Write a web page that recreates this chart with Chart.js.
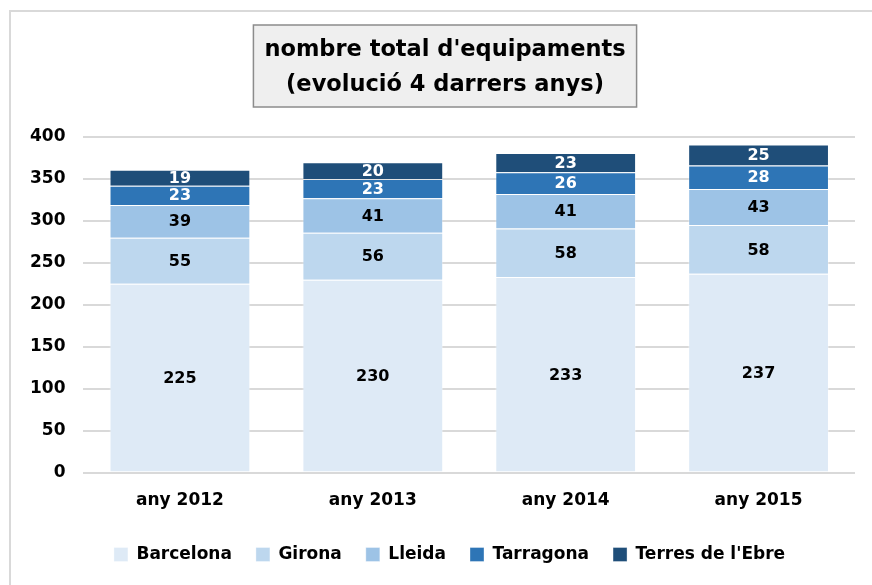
<!DOCTYPE html>
<html>
<head>
<meta charset="utf-8">
<script src="https://cdn.jsdelivr.net/npm/chart.js@4/dist/chart.umd.min.js"></script>
<style>
html,body{margin:0;padding:0;background:#fff;}
#wrap{width:872px;height:585px;}
</style>
</head>
<body>
<div id="wrap"><canvas id="c" width="872" height="585"></canvas></div>
<script>
const categories = ["any 2012", "any 2013", "any 2014", "any 2015"];
const barcelona = [225, 230, 233, 237];
const girona = [55, 56, 58, 58];
const lleida = [39, 41, 41, 43];
const tarragona = [23, 23, 26, 28];
const terresEbre = [19, 20, 23, 25];
const seriesNames = ["Barcelona", "Girona", "Lleida", "Tarragona", "Terres de l'Ebre"];
const yTicks = [0, 50, 100, 150, 200, 250, 300, 350, 400];
const titleLines = ["nombre total d'equipaments", "(evolució 4 darrers anys)"];

const colors = ["#deeaf6", "#bdd7ee", "#9dc3e6", "#2e75b6", "#1f4e79"];
const labelColors = ["#000", "#000", "#000", "#fff", "#fff"];
const FONT = "'DejaVu Sans', sans-serif";

const frame = {
  id: 'frame',
  afterLayout(chart) {
    chart.legend.left += 16;
    chart.legend.right += 16;
  },
  beforeDraw(chart) {
    const ctx = chart.ctx;
    ctx.save();
    ctx.fillStyle = '#fff';
    ctx.fillRect(0, 0, chart.width, chart.height);
    ctx.strokeStyle = '#d9d9d9';
    ctx.lineWidth = 2;
    ctx.strokeRect(10, 11, 900, 600);
    // title box + title text
    ctx.font = "bold 22.5px " + FONT;
    let w = 0;
    titleLines.forEach(t => { w = Math.max(w, ctx.measureText(t).width); });
    const cx = 445;
    const bw = w + 22;
    ctx.fillStyle = '#efefef';
    ctx.fillRect(cx - bw / 2, 25, bw, 82);
    ctx.strokeStyle = '#8c8c8c';
    ctx.lineWidth = 1.5;
    ctx.strokeRect(cx - bw / 2, 25, bw, 82);
    ctx.fillStyle = '#000';
    ctx.textAlign = 'center';
    ctx.textBaseline = 'middle';
    titleLines.forEach((t, i) => ctx.fillText(t, cx, 50 + i * 35));
    ctx.restore();
  }
};

const valueLabels = {
  id: 'valueLabels',
  afterDatasetsDraw(chart) {
    const ctx = chart.ctx;
    ctx.save();
    ctx.font = "bold 16px " + FONT;
    ctx.textAlign = 'center';
    ctx.textBaseline = 'middle';
    chart.data.datasets.forEach((ds, i) => {
      const meta = chart.getDatasetMeta(i);
      meta.data.forEach((bar, j) => {
        const y = (bar.y + bar.base) / 2;
        ctx.fillStyle = labelColors[i];
        ctx.fillText(String(ds.data[j]), bar.x, y + 1);
      });
    });
    ctx.restore();
  }
};

const seriesData = [barcelona, girona, lleida, tarragona, terresEbre];

new Chart(document.getElementById('c'), {
  type: 'bar',
  data: {
    labels: categories,
    datasets: seriesNames.map((n, i) => ({
      label: n,
      data: seriesData[i],
      backgroundColor: colors[i],
      borderColor: 'rgba(255,255,255,0.35)',
      borderWidth: 1,
      categoryPercentage: 1,
      barPercentage: 0.73
    }))
  },
  options: {
    responsive: false,
    animation: false,
    devicePixelRatio: 1,
    layout: { padding: { left: 12, right: 17, top: 137, bottom: 12 } },
    plugins: {
      title: { display: false },
      legend: {
        position: 'bottom',
        labels: {
          color: '#000',
          font: { family: FONT, size: 17, weight: 'bold' },
          boxWidth: 14,
          boxHeight: 14,
          padding: 24
        }
      },
      tooltip: { enabled: false }
    },
    scales: {
      x: {
        stacked: true,
        grid: { display: false, drawTicks: false },
        border: { display: false },
        ticks: { color: '#000', font: { family: FONT, size: 17, weight: 'bold' }, padding: 18 },
        afterFit(s) { s.height -= 7; }
      },
      y: {
        stacked: true,
        min: 0, max: 400,
        afterBuildTicks(s) { s.ticks = yTicks.map(v => ({ value: v })); },
        grid: { color: '#d9d9d9', lineWidth: 2, drawTicks: false },
        border: { display: false },
        ticks: { color: '#000', font: { family: FONT, size: 17, weight: 'bold' }, padding: 18 }
      }
    }
  },
  plugins: [frame, valueLabels]
});
</script>
</body>
</html>
